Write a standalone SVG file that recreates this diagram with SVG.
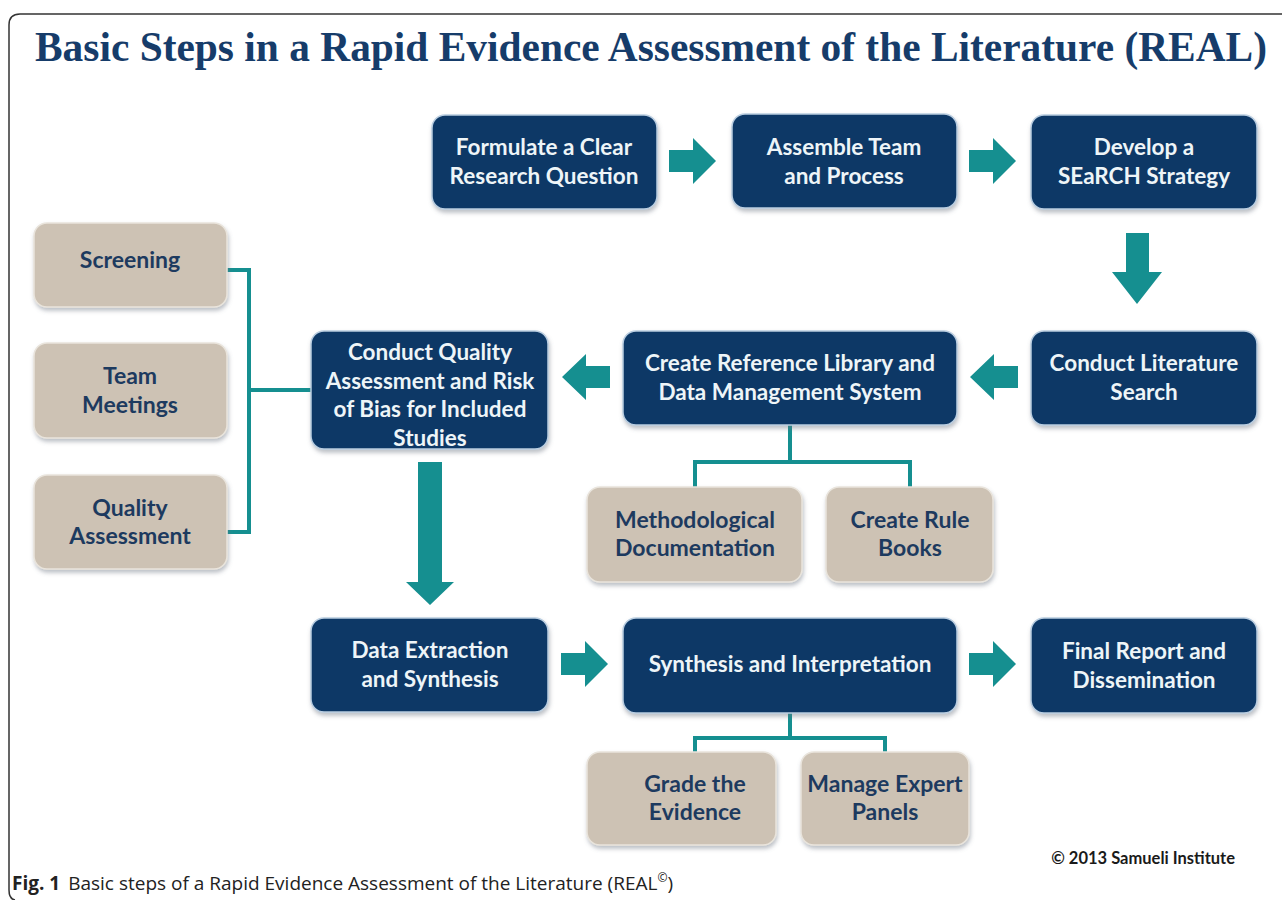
<svg xmlns="http://www.w3.org/2000/svg" width="1282" height="900" viewBox="0 0 1282 900">
<defs>
<filter id="sh" x="-10%" y="-10%" width="125%" height="130%">
<feDropShadow dx="1" dy="3" stdDeviation="2" flood-color="#6b7480" flood-opacity="0.45"/>
</filter>
<style>
.dk{fill:#0c3866;stroke:#b9cde0;stroke-width:1.5;filter:url(#sh)}
.tn{fill:#cdc2b4;stroke:#e9e4dc;stroke-width:1.5;filter:url(#sh)}
.dt{font-family:Lato,"Open Sans",sans-serif;font-weight:bold;font-size:22.5px;fill:#eef5f8;text-anchor:middle}
.tt{font-family:Lato,"Open Sans",sans-serif;font-weight:bold;font-size:23px;fill:#1d3a5f;text-anchor:middle}
.ar{fill:#158f90}
.ln{fill:none;stroke:#158f90;stroke-width:4}
</style>
</defs>
<rect width="1282" height="900" fill="#ffffff"/>
<path d="M15,900 Q9,899 9,890 L9,25 Q9,14 20,14 L1282,14" fill="none" stroke="#333333" stroke-width="1.5"/>
<text transform="translate(35,61) scale(1,1.15)" x="0" y="0" font-family="'Liberation Serif',serif" font-weight="bold" font-size="37" fill="#163c6a" textLength="1232" lengthAdjust="spacingAndGlyphs">Basic Steps in a Rapid Evidence Assessment of the Literature (REAL)</text>

<g id="connectors">
<polygon class="ar" points="669,150 693,150 693,138 716,161 693,184 693,172 669,172"/>
<polygon class="ar" points="969,150 993,150 993,138 1016,161 993,184 993,172 969,172"/>
<polygon class="ar" points="1126,233 1149,233 1149,272 1162,272 1137,304 1112,272 1126,272"/>
<polygon class="ar" points="1018,366 994,366 994,354 970,377 994,400 994,388 1018,388"/>
<polygon class="ar" points="610,366 586,366 586,354 562,377 586,400 586,388 610,388"/>
<polygon class="ar" points="418,462 442,462 442,582 454,582 430,605 406,582 418,582"/>
<polygon class="ar" points="561,653 585,653 585,641 608,664 585,687 585,675 561,675"/>
<polygon class="ar" points="969,653 993,653 993,641 1016,664 993,687 993,675 969,675"/>
<path class="ln" d="M227,270 H249 V532 H227 M249,390 H311"/>
<path class="ln" d="M790,425 V462 M695,487 V462 H910 V487"/>
<path class="ln" d="M790,713 V738 M695,752 V738 H885 V752"/>
</g>

<g id="n-formulate"><rect class="dk" x="432" y="115" width="225" height="94" rx="13"/>
<text class="dt" x="544" y="155">Formulate a Clear</text><text class="dt" x="544" y="184">Research Question</text></g>
<g id="n-assemble"><rect class="dk" x="732" y="114" width="225" height="94" rx="13"/>
<text class="dt" x="844" y="155">Assemble Team</text><text class="dt" x="844" y="184">and Process</text></g>
<g id="n-develop"><rect class="dk" x="1031" y="115" width="226" height="94" rx="13"/>
<text class="dt" x="1144" y="155">Develop a</text><text class="dt" x="1144" y="184">SEaRCH Strategy</text></g>
<g id="n-search"><rect class="dk" x="1031" y="331" width="226" height="94" rx="13"/>
<text class="dt" x="1144" y="371">Conduct Literature</text><text class="dt" x="1144" y="400">Search</text></g>
<g id="n-library"><rect class="dk" x="623" y="331" width="334" height="94" rx="13"/>
<text class="dt" x="790" y="371">Create Reference Library and</text><text class="dt" x="790" y="400">Data Management System</text></g>
<g id="n-quality"><rect class="dk" x="311" y="331" width="237" height="118" rx="13"/>
<text class="dt" x="430" y="360">Conduct Quality</text><text class="dt" x="430" y="389">Assessment and Risk</text><text class="dt" x="430" y="417">of Bias for Included</text><text class="dt" x="430" y="446">Studies</text></g>
<g id="n-screening"><rect class="tn" x="34" y="223" width="193" height="84" rx="13"/>
<text class="tt" x="130" y="268">Screening</text></g>
<g id="n-team"><rect class="tn" x="34" y="343" width="193" height="95" rx="13"/>
<text class="tt" x="130" y="384">Team</text><text class="tt" x="130" y="413">Meetings</text></g>
<g id="n-qa"><rect class="tn" x="34" y="475" width="193" height="94" rx="13"/>
<text class="tt" x="130" y="516">Quality</text><text class="tt" x="130" y="544">Assessment</text></g>
<g id="n-method"><rect class="tn" x="587" y="487" width="215" height="95" rx="13"/>
<text class="tt" x="695" y="528">Methodological</text><text class="tt" x="695" y="556">Documentation</text></g>
<g id="n-rules"><rect class="tn" x="826" y="487" width="167" height="95" rx="13"/>
<text class="tt" x="910" y="528">Create Rule</text><text class="tt" x="910" y="556">Books</text></g>
<g id="n-extract"><rect class="dk" x="311" y="618" width="237" height="94" rx="13"/>
<text class="dt" x="430" y="658">Data Extraction</text><text class="dt" x="430" y="687">and Synthesis</text></g>
<g id="n-synth"><rect class="dk" x="623" y="618" width="334" height="95" rx="13"/>
<text class="dt" x="790" y="672">Synthesis and Interpretation</text></g>
<g id="n-final"><rect class="dk" x="1031" y="618" width="226" height="95" rx="13"/>
<text class="dt" x="1144" y="659">Final Report and</text><text class="dt" x="1144" y="688">Dissemination</text></g>
<g id="n-grade"><rect class="tn" x="587" y="752" width="189" height="93" rx="13"/>
<text class="tt" x="695" y="792">Grade the</text><text class="tt" x="695" y="820">Evidence</text></g>
<g id="n-panels"><rect class="tn" x="801" y="752" width="168" height="93" rx="13"/>
<text class="tt" x="885" y="792">Manage Expert</text><text class="tt" x="885" y="820">Panels</text></g>

<text x="1235" y="864" text-anchor="end" font-family="Lato,sans-serif" font-weight="bold" font-size="16.5" fill="#1a1a1a">© 2013 Samueli Institute</text>
<text x="12" y="890" font-family="'Open Sans',sans-serif" font-size="19" fill="#222222"><tspan font-weight="bold">Fig. 1</tspan><tspan dx="8">Basic steps of a Rapid Evidence Assessment of the Literature (REAL</tspan><tspan font-size="12" dy="-8">©</tspan><tspan dy="8">)</tspan></text>
</svg>
